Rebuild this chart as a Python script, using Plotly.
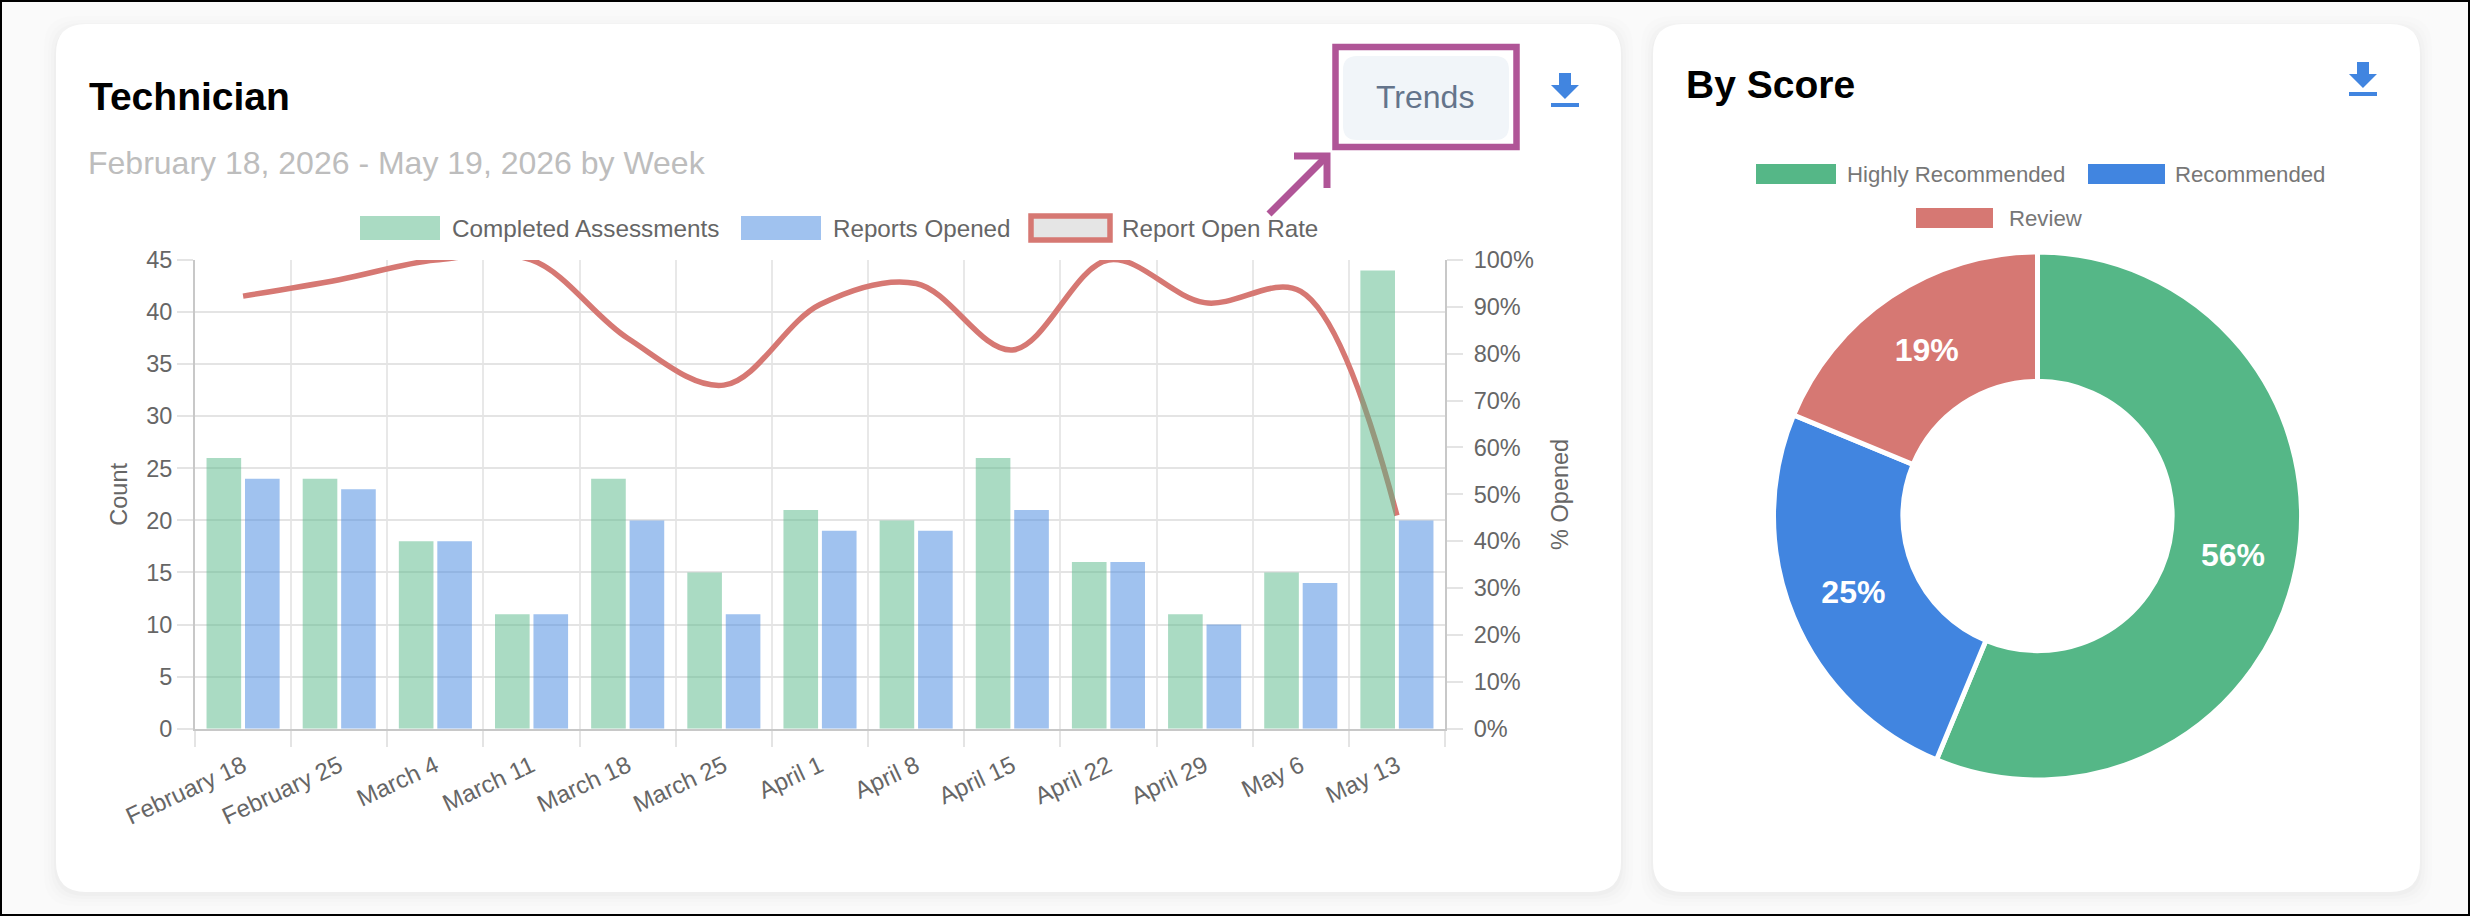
import plotly.graph_objects as go

W = 2470
H = 916
FONT = 'Liberation Sans'

weeks = ['February 18', 'February 25', 'March 4', 'March 11', 'March 18', 'March 25', 'April 1',
         'April 8', 'April 15', 'April 22', 'April 29', 'May 6', 'May 13']
completed = [26, 24, 18, 11, 24, 15, 21, 20, 26, 16, 11, 15, 44]
opened = [24, 23, 18, 11, 20, 11, 19, 19, 21, 16, 10, 14, 20]
open_rate = [92.3, 95.8, 100, 100, 83.3, 73.3, 90.5, 95, 80.8, 100, 90.9, 93.3, 45.5]

score_labels = ['Highly Recommended', 'Recommended', 'Review']
score_values = [56.25, 25, 18.75]

GREEN = '#55b787'
BLUE = '#4185e0'
RED = '#d67873'
PURPLE = '#b05597'
GREEN_A = 'rgba(85,183,135,0.5)'
BLUE_A = 'rgba(65,133,224,0.5)'


# pixel helpers, everything outside the plots is placed on paper coords
def px(x):
    return x / W


def py(y):
    return 1 - y / H


def rect(x0, y0, x1, y1, fill=None, line=None, width=0, layer='below'):
    return dict(type='rect', xref='paper', yref='paper', x0=px(x0), x1=px(x1), y0=py(y0), y1=py(y1),
                fillcolor=fill or 'rgba(0,0,0,0)', line=dict(color=line or 'rgba(0,0,0,0)', width=width),
                layer=layer)


def path(points, fill=None, line=None, width=0, close=True, layer='above'):
    d = 'M ' + ' L '.join(f'{px(x):.6f},{py(y):.6f}' for x, y in points)
    if close:
        d += ' Z'
    return dict(type='path', xref='paper', yref='paper', path=d, fillcolor=fill or 'rgba(0,0,0,0)',
                line=dict(color=line or 'rgba(0,0,0,0)', width=width), layer=layer)


def round_rect(x0, y0, x1, y1, r, fill, layer='below'):
    a, b, c, d = px(x0), px(x1), py(y0), py(y1)
    rx, ry = r / W, r / H
    p = (f'M {a + rx},{c} L {b - rx},{c} Q {b},{c} {b},{c - ry} L {b},{d + ry} Q {b},{d} {b - rx},{d} '
         f'L {a + rx},{d} Q {a},{d} {a},{d + ry} L {a},{c - ry} Q {a},{c} {a + rx},{c} Z')
    return dict(type='path', xref='paper', yref='paper', path=p, fillcolor=fill,
                line=dict(color='rgba(0,0,0,0)', width=0), layer=layer)


def label(text, x, y, size, color, anchor='left', bold=False):
    if bold:
        text = f'<b>{text}</b>'
    return dict(text=text, x=px(x), y=py(y), xref='paper', yref='paper', xanchor=anchor, yanchor='middle',
                showarrow=False, font=dict(family=FONT, size=size, color=color))


def download_icon(x, y):
    return [
        path([(x + 8, y), (x + 20, y), (x + 20, y + 12), (x + 28, y + 12), (x + 14, y + 26), (x, y + 12), (x + 8, y + 12)],
             fill=BLUE),
        rect(x, y + 30, x + 28, y + 34, fill=BLUE, layer='above'),
    ]


shapes = []

# cards with a soft shadow
for x0, x1 in [(56, 1621), (1653, 2420)]:
    for grow, alpha in [(12, 0.006), (8, 0.008), (5, 0.010), (2, 0.014)]:
        shapes.append(round_rect(x0 - grow, 24 - grow + 4, x1 + grow, 892 + grow + 2, 30, f'rgba(0,0,0,{alpha})'))
    shapes.append(round_rect(x0, 24, x1, 892, 30, '#ffffff'))

# trends button and the callout on top of it
shapes.append(round_rect(1343, 56, 1509, 140, 14, '#f1f5f9', layer='above'))
shapes.append(rect(1335.5, 47, 1516.5, 147, line=PURPLE, width=6.5, layer='above'))
shapes.append(path([(1269, 214), (1326, 157)], line=PURPLE, width=7, close=False))
shapes.append(path([(1294, 156), (1327, 156), (1327, 188)], line=PURPLE, width=7, close=False))

shapes += download_icon(1551, 73)
shapes += download_icon(2349, 62)

# legend swatches
shapes.append(rect(360, 216, 440, 240, fill=GREEN_A, layer='above'))
shapes.append(rect(741, 216, 821, 240, fill=BLUE_A, layer='above'))
shapes.append(rect(1031, 216, 1110, 240, fill='#e5e5e5', line=RED, width=5.5, layer='above'))
shapes.append(rect(1756, 164, 1836, 184, fill=GREEN, layer='above'))
shapes.append(rect(2088, 164, 2165, 184, fill=BLUE, layer='above'))
shapes.append(rect(1916, 208, 1993, 228, fill=RED, layer='above'))

# frame of the screenshot
shapes.append(rect(0, 0, W, H, line='#000000', width=4, layer='above'))

annotations = [
    label('Technician', 87, 96, 39, '#000000', bold=True),
    label('February 18, 2026 - May 19, 2026 by Week', 86, 163, 32, '#bdbdbd'),
    label('Trends', 1425, 97, 32, '#64748b', anchor='center'),
    label('By Score', 1684, 85, 39, '#000000', bold=True),
    label('Completed Assessments', 450, 228, 24.3, '#666666'),
    label('Reports Opened', 831, 228, 24.2, '#666666'),
    label('Report Open Rate', 1120, 228, 24.2, '#666666'),
    label(score_labels[0], 1845, 174, 22.2, '#777777'),
    label(score_labels[1], 2173, 174, 22.2, '#777777'),
    label(score_labels[2], 2007, 218, 22.2, '#777777'),
]

fig = go.Figure()

# rate line goes on the base subplot so the see-through bars sit over it
fig.add_trace(go.Scatter(x=weeks, y=open_rate, name='Report Open Rate', mode='lines', xaxis='x', yaxis='y',
                         line=dict(color=RED, width=5.5, shape='spline', smoothing=1.0)))
fig.add_trace(go.Bar(x=weeks, y=completed, name='Completed Assessments', xaxis='x', yaxis='y2',
                     marker=dict(color=GREEN_A, line=dict(width=0))))
fig.add_trace(go.Bar(x=weeks, y=opened, name='Reports Opened', xaxis='x', yaxis='y2',
                     marker=dict(color=BLUE_A, line=dict(width=0))))

fig.add_trace(go.Pie(labels=score_labels, values=score_values, hole=0.51, sort=False, direction='clockwise',
                     rotation=0, textinfo='percent', texttemplate='%{percent:.0%}', textposition='inside',
                     insidetextorientation='horizontal',
                     textfont=dict(family=FONT, size=32, color='#ffffff', weight='bold'),
                     marker=dict(colors=[GREEN, BLUE, RED], line=dict(color='#ffffff', width=5)),
                     domain=dict(x=[px(2037.5 - 264), px(2037.5 + 264)], y=[py(516 + 264), py(516 - 264)]),
                     showlegend=False))

tick_font = dict(family=FONT, size=23.5, color='#666666')

fig.update_layout(
    width=W,
    height=H,
    autosize=False,
    margin=dict(l=0, r=0, t=0, b=0, pad=0, autoexpand=False),
    paper_bgcolor='#fafafa',
    plot_bgcolor='rgba(0,0,0,0)',
    showlegend=False,
    barmode='group',
    bargap=0.2,
    bargroupgap=0.1,
    shapes=shapes,
    annotations=annotations,
    xaxis=dict(domain=[px(195), px(1445)], type='category', tickson='boundaries', ticks='outside', ticklen=16,
               tickwidth=2, tickcolor='#e4e4e4', showgrid=True, gridcolor='#e8e8e8', gridwidth=2, tickangle=-25,
               tickfont=dict(family=FONT, size=24, color='#666666'), ticklabelstandoff=12, showline=True,
               linecolor='#c8c8c8', linewidth=2, anchor='y2'),
    yaxis=dict(domain=[py(728.7), py(260)], range=[0, 100], dtick=10, side='right', ticks='outside', ticklen=16,
               tickwidth=2, tickcolor='#e4e4e4', ticksuffix='%', showgrid=False, zeroline=False, tickfont=tick_font,
               ticklabelstandoff=6, showline=True, linecolor='#c8c8c8', linewidth=2, anchor='x',
               title=dict(text='% Opened', font=tick_font, standoff=19)),
    yaxis2=dict(domain=[py(728.7), py(260)], range=[0, 45], dtick=5, side='left', overlaying='y', ticks='outside',
                ticklen=16, tickwidth=2, tickcolor='#e4e4e4', showgrid=True, gridcolor='#e4e4e4', gridwidth=2,
                zeroline=False, tickfont=tick_font, ticklabelstandoff=0, showline=True, linecolor='#c8c8c8',
                linewidth=2, anchor='x', title=dict(text='Count', font=tick_font, standoff=12)),
)

fig.write_html('out.html', config={'displayModeBar': False},
               post_script="document.body.style.margin='0';document.body.style.overflow='hidden';")
